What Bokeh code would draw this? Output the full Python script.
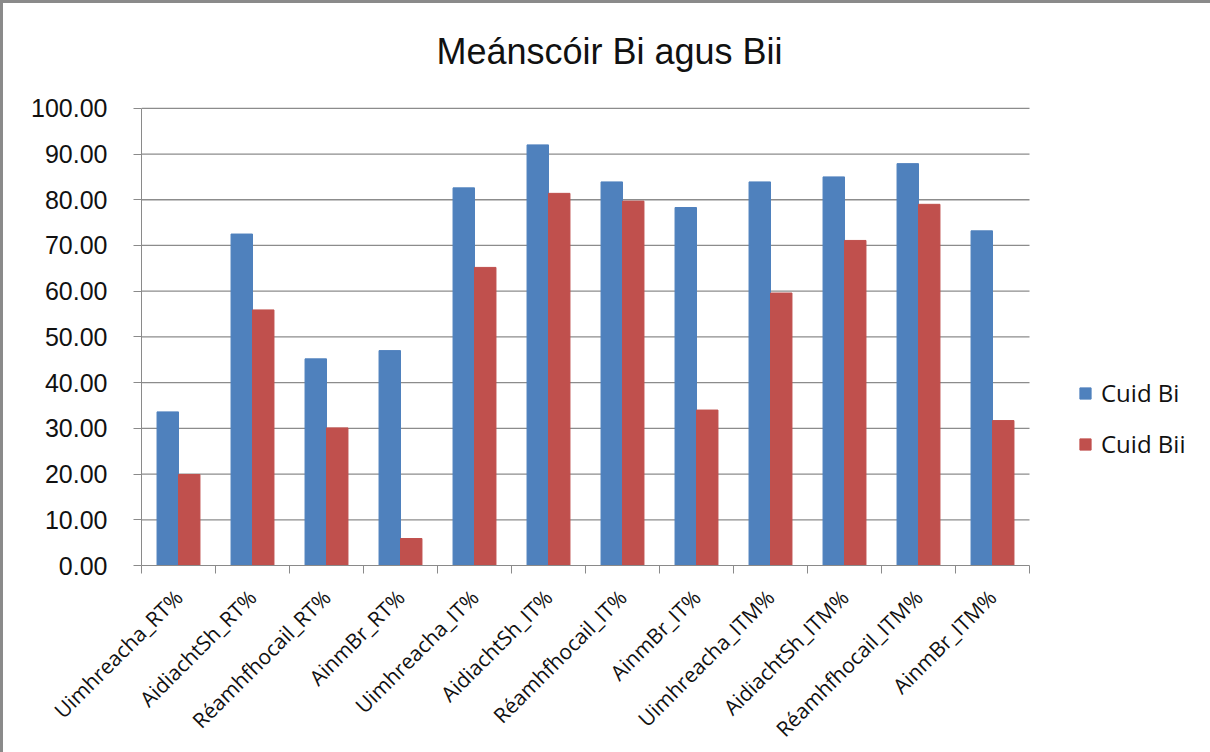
from bokeh.plotting import figure
from bokeh.models import Range1d, FixedTicker, ColumnDataSource, Label
from bokeh.embed import file_html
from bokeh.resources import INLINE
import math

categories = ["Uimhreacha_RT%", "AidiachtSh_RT%", "Réamhfhocail_RT%", "AinmBr_RT%",
              "Uimhreacha_IT%", "AidiachtSh_IT%", "Réamhfhocail_IT%", "AinmBr_IT%",
              "Uimhreacha_ITM%", "AidiachtSh_ITM%", "Réamhfhocail_ITM%", "AinmBr_ITM%"]
cuid_bi = [33.6, 72.5, 45.2, 47.0, 82.6, 92.0, 83.9, 78.3, 83.9, 85.0, 87.9, 73.2]
cuid_bii = [19.9, 55.9, 30.1, 5.9, 65.2, 81.4, 79.7, 34.0, 59.6, 71.1, 79.0, 31.7]
y_ticks = [0, 10, 20, 30, 40, 50, 60, 70, 80, 90, 100]
title_text = "Meánscóir Bi agus  Bii"
series_names = ["Cuid Bi", "Cuid Bii"]

W, H = 1210, 752
BORDER = 3
FL = 138                 # left edge of plotting area
DATA_W = 888             # width used by the 12 categories
DATA_TOP, DATA_BOT = 108, 566
FW = W - FL
FH = DATA_BOT - BORDER   # frame reaches the top of the page (room for title)
n = len(categories)
x_end = n * FW / DATA_W
y_end = 100 * FH / (DATA_BOT - DATA_TOP)

p = figure(width=W, height=H, output_backend="svg", toolbar_location=None,
           x_range=Range1d(0, x_end), y_range=Range1d(0, y_end),
           min_border_left=FL, min_border_top=0,
           min_border_right=0, min_border_bottom=H - DATA_BOT)
p.outline_line_color = None
p.title.visible = False
p.styles = {"border-left": "3px solid #8a8a8a", "border-top": "3px solid #8a8a8a"}

centers = [i + 0.5 for i in range(n)]
bw = 0.29

# horizontal gridlines only across the category area
grid_y = y_ticks[1:]
p.segment(x0=[0] * len(grid_y), x1=[n] * len(grid_y), y0=grid_y, y1=grid_y,
          line_color="#8c8c8c", line_width=1.3)

src = ColumnDataSource(dict(
    xb=[c - bw / 2 for c in centers], xr=[c + bw / 2 for c in centers],
    bi=cuid_bi, bii=cuid_bii))
p.vbar(x="xb", top="bi", width=bw, source=src, fill_color="#4F81BD",
       line_color="#4F81BD", legend_label=series_names[0])
p.vbar(x="xr", top="bii", width=bw, source=src, fill_color="#C0504D",
       line_color="#C0504D", legend_label=series_names[1])

# y axis
p.yaxis.bounds = (0, 100)
p.yaxis.ticker = FixedTicker(ticks=y_ticks)
p.yaxis.major_label_overrides = {t: f"{t:.2f}" for t in y_ticks}
p.yaxis.major_label_text_font = "Liberation Sans"
p.yaxis.major_label_text_font_size = "25px"
p.yaxis.major_label_text_color = "#111111"
p.yaxis.axis_line_color = "#8a8a8a"
p.yaxis.major_tick_line_color = "#8a8a8a"
p.yaxis.major_tick_out = 8
p.yaxis.major_tick_in = 0
p.yaxis.minor_tick_line_color = None
p.yaxis.major_label_standoff = 26

# x axis
p.xaxis.bounds = (0, n)
p.xaxis.ticker = FixedTicker(ticks=centers, minor_ticks=list(range(n + 1)))
p.xaxis.major_label_overrides = {c: lab for c, lab in zip(centers, categories)}
p.xaxis.major_label_orientation = math.pi / 4
p.xaxis.major_label_text_font = "Open Sans"
p.xaxis.major_label_text_font_size = "21px"
p.xaxis.major_label_text_color = "#111111"
p.xaxis.axis_line_color = "#8a8a8a"
p.xaxis.major_tick_line_color = None
p.xaxis.minor_tick_line_color = "#8a8a8a"
p.xaxis.minor_tick_out = 8
p.xaxis.minor_tick_in = 0
p.xaxis.major_label_standoff = 20

p.xgrid.visible = False
p.ygrid.visible = False

# title
p.add_layout(Label(x=611 - FL, y=DATA_BOT - 52, x_units="screen", y_units="screen",
                   text=title_text, text_align="center", text_baseline="alphabetic",
                   text_font="Liberation Sans", text_font_size="36px",
                   text_color="#111111"))

# legend
lg = p.legend[0]
lg.location = (1075 - FL, 105)
lg.padding = 0
lg.margin = 0
lg.border_line_alpha = 0
lg.background_fill_alpha = 0
lg.glyph_width = 14
lg.glyph_height = 14
lg.label_height = 14
lg.spacing = 18
lg.label_standoff = 9
lg.label_text_font = "Open Sans"
lg.label_text_font_size = "24px"
lg.label_text_color = "#111111"

open("out.html", "w").write(file_html(p, INLINE))
